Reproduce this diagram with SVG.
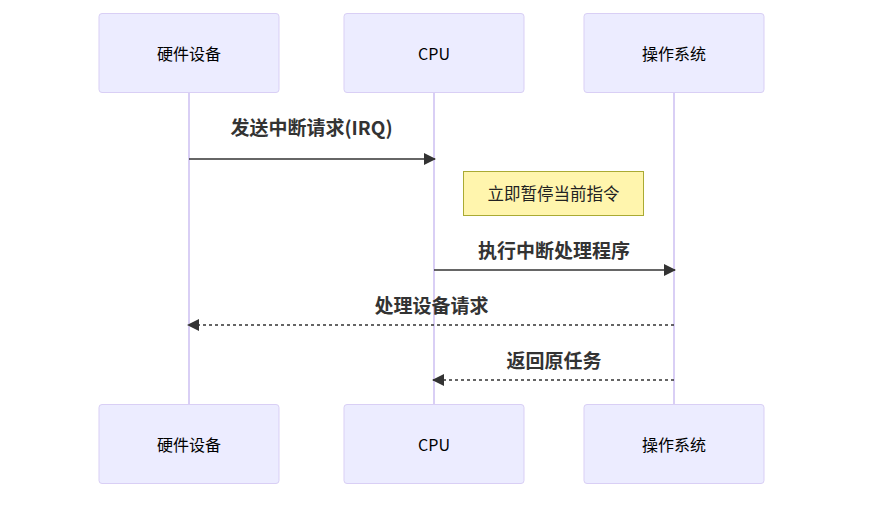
<svg xmlns="http://www.w3.org/2000/svg" width="877" height="510" viewBox="0 0 877 510">
<style>
.actor rect{fill:#ECECFF;stroke:#d9cff5;stroke-width:1}
.actor text{font-family:"Noto Sans CJK SC","Liberation Sans",sans-serif;font-size:16px;fill:#000;text-anchor:middle;dominant-baseline:central}
.life{stroke:#d9cff5;stroke-width:2}
.msg{stroke:#333;stroke-width:1.5;fill:none}
.dash{stroke-dasharray:3,3}
.lbl{font-family:"Noto Sans CJK SC","Liberation Sans",sans-serif;font-size:19px;font-weight:bold;fill:#333;text-anchor:middle}
.note rect{fill:#fff5ad;stroke:#aaaa33;stroke-width:1}
.note text{font-family:"Noto Sans CJK SC","Liberation Sans",sans-serif;font-size:16.5px;fill:#222;text-anchor:middle;dominant-baseline:central}
</style>
<defs>
<marker id="arr" viewBox="0 0 12 12" refX="11" refY="6" markerWidth="12" markerHeight="12" markerUnits="userSpaceOnUse" orient="auto">
<path d="M0,0 L12,6 L0,12 z" fill="#333"/>
</marker>
</defs>
<rect width="877" height="510" fill="#fff"/>
<g id="lifelines">
<line class="life" x1="189" y1="92" x2="189" y2="404"/>
<line class="life" x1="434" y1="92" x2="434" y2="404"/>
<line class="life" x1="674" y1="92" x2="674" y2="404"/>
</g>
<g id="hw-top" class="actor"><rect x="99" y="13.5" width="180" height="79" rx="3"/><text x="189" y="53">硬件设备</text></g>
<g id="cpu-top" class="actor"><rect x="344" y="13.5" width="180" height="79" rx="3"/><text x="434" y="53">CPU</text></g>
<g id="os-top" class="actor"><rect x="584" y="13.5" width="180" height="79" rx="3"/><text x="674" y="53">操作系统</text></g>
<g id="hw-bottom" class="actor"><rect x="99" y="404.5" width="180" height="79" rx="3"/><text x="189" y="444">硬件设备</text></g>
<g id="cpu-bottom" class="actor"><rect x="344" y="404.5" width="180" height="79" rx="3"/><text x="434" y="444">CPU</text></g>
<g id="os-bottom" class="actor"><rect x="584" y="404.5" width="180" height="79" rx="3"/><text x="674" y="444">操作系统</text></g>
<g id="note" class="note"><rect x="463.5" y="171.5" width="180" height="44"/><text x="553.5" y="193">立即暂停当前指令</text></g>
<g id="connectors">
<line class="msg" x1="189" y1="159" x2="435" y2="159" marker-end="url(#arr)"/>
<line class="msg" x1="434" y1="270" x2="675" y2="270" marker-end="url(#arr)"/>
<line class="msg dash" x1="674" y1="325" x2="188" y2="325" marker-end="url(#arr)"/>
<line class="msg dash" x1="674" y1="380" x2="433" y2="380" marker-end="url(#arr)"/>
</g>
<g id="labels">
<text class="lbl" x="311.5" y="135">发送中断请求(IRQ)</text>
<text class="lbl" x="554" y="258">执行中断处理程序</text>
<text class="lbl" x="431.5" y="313">处理设备请求</text>
<text class="lbl" x="554" y="368">返回原任务</text>
</g>
</svg>
